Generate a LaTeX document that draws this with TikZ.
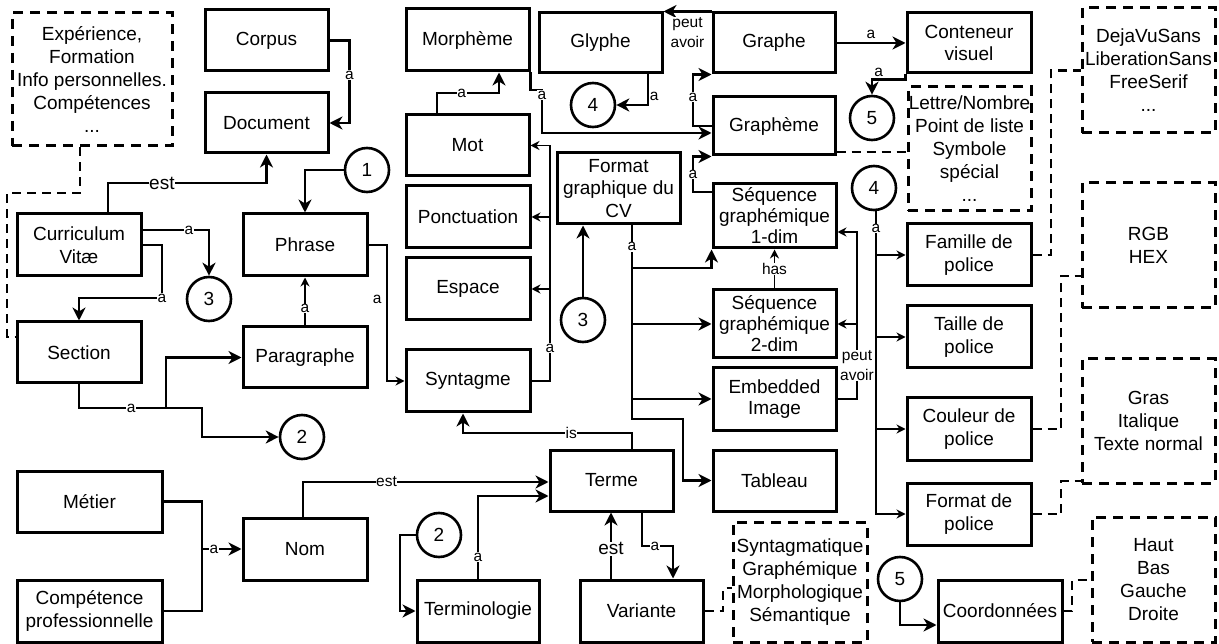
\documentclass[tikz,border=0pt]{standalone}
\usepackage{fontspec}
\setmainfont{Liberation Sans}
\usetikzlibrary{arrows.meta,calc}
\newcommand\myNodeFont{\fontsize{19}{22.5}\selectfont}
\newcommand\mySeqFont{\fontsize{19}{21}\selectfont}
\newcommand\myDashFont{\fontsize{19}{23}\selectfont}
\newcommand\myLblFont{\fontsize{15.5}{20}\selectfont}
\newcommand\myBigLblFont{\fontsize{19}{21}\selectfont}
\begin{document}
\begin{tikzpicture}[x=1pt,y=-1pt,
  bx/.style={draw, line width=3pt, inner sep=0pt, align=center, font=\myNodeFont},
  dbx/.style={bx, font=\myDashFont, dash pattern=on 10pt off 7pt},
  circ/.style={draw, circle, line width=2.6pt, minimum size=44pt, inner sep=0pt, font=\myNodeFont},
  conn/.style={line width=2.8pt, -{Stealth[length=13pt,width=13pt,inset=4pt]}},
  tconn/.style={line width=1.9pt, -{Stealth[length=9pt,width=9pt,inset=3pt]}},
  dline/.style={line width=2.8pt, dash pattern=on 9pt off 6pt},
  lbl/.style={fill=white, inner sep=0.5pt, font=\myLblFont, align=center},
]
\useasboundingbox (0,0) rectangle (1219,644);
\fill[white] (0,0) rectangle (1219,644);

% ---- nodes ----
\node[bx, minimum width=123pt, minimum height=61pt] (corpus) at (266.5,40.5) {Corpus};
\node[bx, minimum width=123pt, minimum height=60pt] (document) at (266.5,123) {Document};
\node[dbx, minimum width=160pt, minimum height=133pt] (exp) at (92,79.5) {Expérience,\\Formation\\Info personnelles.\\Compétences\\...};
\node[bx, minimum width=124pt, minimum height=62pt] (cv) at (79,245) {Curriculum\\Vitæ};
\node[bx, minimum width=124pt, minimum height=61pt] (section) at (79,352.5) {Section};
\node[bx, minimum width=124pt, minimum height=62pt] (phrase) at (305,245) {Phrase};
\node[bx, minimum width=124pt, minimum height=61pt] (paragraphe) at (305,357.5) {Paragraphe};
\node[bx, minimum width=145pt, minimum height=61pt] (metier) at (89.5,501.5) {Métier};
\node[bx, minimum width=145pt, minimum height=62pt] (competence) at (89.5,611) {Compétence\\professionnelle};
\node[bx, minimum width=124pt, minimum height=62pt] (nom) at (305,549) {Nom};
\node[bx, minimum width=123pt, minimum height=62pt] (morpheme) at (467.5,40) {Morphème};
\node[bx, minimum width=123pt, minimum height=61pt] (mot) at (467.5,145.5) {Mot};
\node[bx, minimum width=124pt, minimum height=62pt] (ponct) at (468,217) {Ponctuation};
\node[bx, minimum width=124pt, minimum height=62pt] (espace) at (468,289) {Espace};
\node[bx, minimum width=124pt, minimum height=62pt] (syntagme) at (468,381) {Syntagme};
\node[bx, minimum width=123pt, minimum height=60pt] (glyphe) at (600.5,43) {Glyphe};
\node[bx, minimum width=123pt, minimum height=71pt] (format) at (618.5,188.5) {Format\\graphique du\\CV};
\node[bx, minimum width=123pt, minimum height=61pt] (terme) at (611.5,480.5) {Terme};
\node[bx, minimum width=122pt, minimum height=62pt] (terminologie) at (478,611) {Terminologie};
\node[bx, minimum width=123pt, minimum height=62pt] (variante) at (641.5,611) {Variante};
\node[bx, minimum width=122pt, minimum height=60pt] (graphe) at (774,43) {Graphe};
\node[bx, minimum width=122pt, minimum height=58pt] (grapheme) at (774,126) {Graphème};
\node[bx, font=\mySeqFont, minimum width=123pt, minimum height=64pt] (seq1) at (774.5,216) {Séquence\\graphémique\\1-dim};
\node[bx, font=\mySeqFont, minimum width=123pt, minimum height=68pt] (seq2) at (774.5,324) {Séquence\\graphémique\\2-dim};
\node[bx, font=\mySeqFont, minimum width=123pt, minimum height=62pt] (embedded) at (774.5,399) {Embedded\\Image};
\node[bx, minimum width=123pt, minimum height=61pt] (tableau) at (774.5,480.5) {Tableau};
\node[dbx, minimum width=134pt, minimum height=120pt] (syntaxdash) at (800,582) {Syntagmatique\\Graphémique\\Morphologique\\Sémantique};
\node[bx, minimum width=124pt, minimum height=60pt] (conteneur) at (969,43) {Conteneur\\visuel};
\node[dbx, minimum width=123pt, minimum height=124pt] (lettre) at (969.5,149) {Lettre/Nombre\\Point de liste\\Symbole\\spécial\\...};
\node[bx, minimum width=124pt, minimum height=62pt] (famille) at (969,255) {Famille de\\police};
\node[bx, minimum width=124pt, minimum height=62pt] (taille) at (969,337) {Taille de\\police};
\node[bx, minimum width=124pt, minimum height=62pt] (couleur) at (969,429) {Couleur de\\police};
\node[bx, minimum width=124pt, minimum height=62pt] (formatpol) at (969,514) {Format de\\police};
\node[bx, minimum width=124pt, minimum height=62pt] (coord) at (1000,611) {Coordonnées};
\node[dbx, minimum width=133pt, minimum height=125pt] (dejavu) at (1148.5,70.5) {DejaVuSans\\LiberationSans\\FreeSerif\\...};
\node[dbx, minimum width=133pt, minimum height=125pt] (rgb) at (1148.5,245.5) {RGB\\HEX};
\node[dbx, minimum width=133pt, minimum height=124pt] (gras) at (1148.5,421) {Gras\\Italique\\Texte normal};
\node[dbx, minimum width=123pt, minimum height=125pt] (haut) at (1153.5,579.5) {Haut\\Bas\\Gauche\\Droite};

\node[circ] (c1) at (367,170) {1};
\node[circ] (c3a) at (209,299) {3};
\node[circ] (c2a) at (302,437) {2};
\node[circ] (c3b) at (583,320) {3};
\node[circ] (c4a) at (593,105) {4};
\node[circ] (c5a) at (872,118) {5};
\node[circ] (c4b) at (874,188) {4};
\node[circ] (c2b) at (439,535) {2};
\node[circ] (c5b) at (900,579) {5};

% ---- connectors ----
\draw[conn] (corpus.east) -- ++(20,0) |- node[lbl,pos=0.21]{a} (document.east);
\draw[conn] (c1.west) -| (phrase.north);
\draw[conn] (cv.north -| 108,0) -- (108,183) -| node[lbl,pos=0.17,font=\myBigLblFont]{est} (document.south);
\draw[conn] (cv.east |- 0,230) -| node[lbl,pos=0.35]{a} (c3a.north);
\draw[conn] (cv.east |- 0,245) -- (162,245) -- (162,298) node[lbl]{a} -| (section.north);
\draw[tconn] (paragraphe.north) -- node[lbl,pos=0.35]{a} (phrase.south);
\draw[conn] (section.south) |- node[lbl,pos=0.8]{a} (166,408) |- (paragraphe.west);
\draw[conn] (166,408) -- (202,408) |- (c2a.west);
\draw[tconn] (phrase.east |- 0,245) -- (387,245) |- node[lbl,pos=0.2,left=4pt]{a} (syntagme.west);
\draw[tconn] (syntagme.east) -| node[lbl,pos=0.57]{a} (550,145.5) -- (mot.east);
\draw[tconn] (550,217) -- (ponct.east);
\draw[tconn] (550,289) -- (espace.east);
\draw[conn] (mot.north -| 437,0) |- node[lbl,pos=0.7]{a} (499,93) -- (morpheme.south -| 499,0);
\draw[conn] (morpheme.south east) |- (542,90) -- node[lbl,pos=0.12]{a} (542,133) -- (grapheme.west |- 0,133);
\draw[conn] (glyphe.south -| 648,0) |- node[lbl,pos=0.36,right=0pt]{a} (c4a);
\draw[conn] (graphe.north west) -- node[lbl,below=4pt]{peut\\avoir} (glyphe.north east);
\draw[conn] (grapheme.west) -- (693,126) |- node[lbl,pos=0.28]{a} (graphe.south west);
\draw[conn] (seq1.west |- 0,192) -- (693,192) |- node[lbl,pos=0.25]{a} (grapheme.south west);
\draw[conn] (graphe.east) -- node[lbl,above=2pt]{a} (conteneur.west);
\draw[conn] (conteneur.south west) -- ++(0,5) -| node[lbl,pos=0.4,above=1pt]{a} (c5a.north);
\draw[dline] (grapheme.east |- 0,152) -- (lettre.west |- 0,152);
\draw[tconn] (c4b.south -| 876,0) -- node[lbl,pos=0.056]{a} (876,514) -- (formatpol.west);
\draw[tconn] (876,255) -- (famille.west);
\draw[tconn] (876,337) -- (taille.west);
\draw[tconn] (876,429) -- (couleur.west);
\draw[dline] (famille.east) -- (1051,255) |- (dejavu.west);
\draw[dline] (couleur.east) -- (1061,429) |- (rgb.west |- 0,276);
\draw[dline] (formatpol.east) -- (1061,514) |- (gras.west |- 0,481);
\draw[dline] (coord.east) -- (1072,611) |- (haut.west |- 0,580);
\draw[conn] (c5b.south) |- (coord.west |- 0,625);
\draw[dline] (variante.east) -- (723,611) |- (syntaxdash.west |- 0,588);
\draw[conn] (format.south -| 632,0) -- node[lbl,pos=0.11]{a} (632,419) -- (683,419) |- (tableau.west);
\draw[conn] (632,268) -| (seq1.south west);
\draw[conn] (632,324) -- (seq2.west);
\draw[conn] (632,399) -- (embedded.west);
\draw[tconn] (seq2.north) -- node[lbl]{has} (seq1.south);
\draw[tconn] (embedded.east) -- (857,399) |- node[lbl,pos=0.1]{peut\\avoir} (seq1.east |- 0,232);
\draw[tconn] (857,324) -- (seq2.east);
\draw[conn] (terme.north -| 632,0) |- node[lbl,pos=0.68]{is} (463,433) -- (syntagme.south -| 463,0);
\draw[conn] (nom.north -| 303,0) |- node[lbl,pos=0.67]{est} (terme.west |- 0,482);
\draw[conn] (terminologie.north -| 478,0) |- node[lbl,pos=0.13]{a} (terme.west |- 0,496);
\draw[conn] (c2b.west) -- (400,535) |- (terminologie.west);
\draw[conn] (variante.north -| 611,0) -- node[lbl,pos=0.45,font=\myBigLblFont]{est} (terme.south -| 611,0);
\draw[conn] (terme.south -| 642,0) |- node[lbl,pos=0.71]{a} (673,546) -- (variante.north -| 673,0);
\draw[conn] (metier.east) -| (202,549) -- node[lbl,pos=0.3]{a} (nom.west);
\draw[line width=2.8pt] (competence.east) -| (202,549);
\draw[conn] (c3b.north) -- (format.south -| 583,0);
\draw[dline] (exp.south -| 80,0) -- (80,193) -- (7,193) |- (section.west |- 0,337);
\end{tikzpicture}
\end{document}
